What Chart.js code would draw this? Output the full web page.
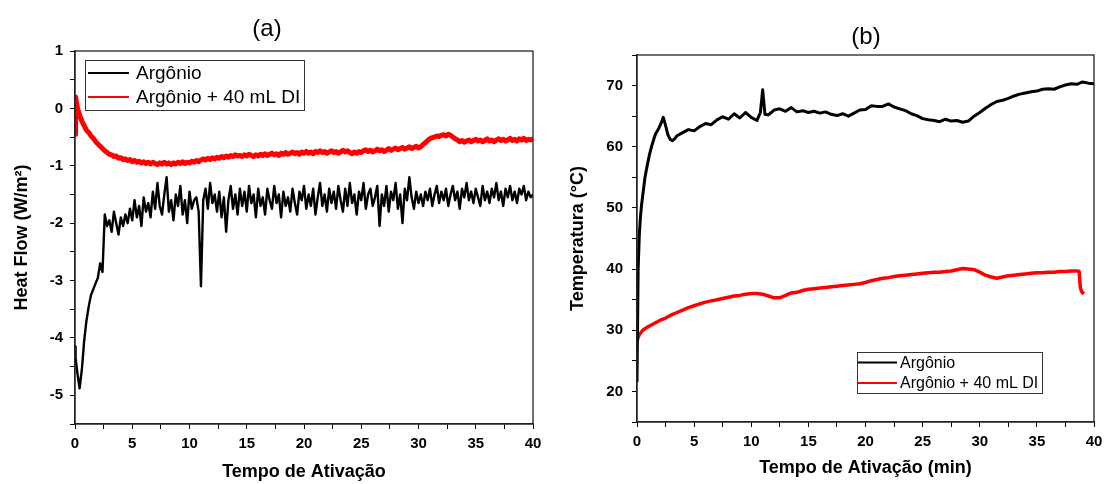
<!DOCTYPE html>
<html><head><meta charset="utf-8">
<script src="https://cdn.jsdelivr.net/npm/chart.js@4/dist/chart.umd.min.js"></script>
<style>
html,body{margin:0;padding:0;background:#fff;}
#wrap{position:relative;width:1104px;height:484px;overflow:hidden;background:#fff;}
.pane{position:absolute;top:0;height:484px;}
.lbl{position:absolute;font-family:"Liberation Sans",Arial,sans-serif;font-size:24px;color:#000;transform:translate(-50%,-50%);white-space:nowrap;}
</style></head><body>
<div id="wrap">
<div class="pane" style="left:0;width:552px"><canvas id="ca" width="552" height="484"></canvas></div>
<div class="pane" style="left:552px;width:560px"><canvas id="cb" width="560" height="484"></canvas></div>
<div class="lbl" style="left:267px;top:28px">(a)</div>
<div class="lbl" style="left:866px;top:36px">(b)</div>
</div>
<script>
// ---------- Panel (a): Heat Flow ----------
const timeA = [0,0.05,0.2,0.4,0.6,0.8,1.0,1.2,1.4,1.6,1.8,2.0,2.2,2.4,2.6,
2.8,3.0,3.2,3.4,3.6,3.8,4.0,4.2,4.4,
4.6,4.8,5.0,5.2,5.4,5.6,5.8,6.0,6.2,6.4,
6.6,6.8,7.0,7.2,7.4,7.6,7.8,8.0,8.2,8.4,
8.6,8.8,9.0,9.2,9.4,9.6,9.8,10.0,10.2,10.4,
10.6,10.8,11.0,11.2,11.4,11.6,11.8,12.0,12.2,12.4,
12.6,12.8,13.0,13.2,13.4,13.6,13.8,14.0,14.2,14.4,
14.6,14.8,15.0,15.2,15.4,15.6,15.8,16.0,16.2,16.4,
16.6,16.8,17.0,17.2,17.4,17.6,17.8,18.0,18.2,18.4,
18.6,18.8,19.0,19.2,19.4,19.6,19.8,20.0,20.2,20.4,
20.6,20.8,21.0,21.2,21.4,21.6,21.8,22.0,22.2,22.4,
22.6,22.8,23.0,23.2,23.4,23.6,23.8,24.0,24.2,24.4,
24.6,24.8,25.0,25.2,25.4,25.6,25.8,26.0,26.2,26.4,
26.6,26.8,27.0,27.2,27.4,27.6,27.8,28.0,28.2,28.4,
28.6,28.8,29.0,29.2,29.4,29.6,29.8,30.0,30.2,30.4,
30.6,30.8,31.0,31.2,31.4,31.6,31.8,32.0,32.2,32.4,
32.6,32.8,33.0,33.2,33.4,33.6,33.8,34.0,34.2,34.4,
34.6,34.8,35.0,35.2,35.4,35.6,35.8,36.0,36.2,36.4,
36.6,36.8,37.0,37.2,37.4,37.6,37.8,38.0,38.2,38.4,
38.6,38.8,39.0,39.2,39.4,39.6,39.8,40.0];

const heatArgon = [-4.15,-4.35,-4.6,-4.88,-4.55,-4.05,-3.7,-3.45,-3.25,-3.15,-3.05,-2.95,-2.7,-2.85,-1.85,
-2.05,-1.95,-2.15,-1.8,-2.0,-2.2,-1.9,-2.05,-1.85,
-2.0,-1.75,-1.95,-1.6,-1.9,-1.7,-2.05,-1.55,-1.8,-1.65,
-1.9,-1.45,-1.75,-1.3,-1.7,-1.85,-1.5,-1.2,-1.8,-1.6,
-1.95,-1.5,-1.7,-1.35,-1.85,-1.6,-2.0,-1.45,-1.75,-1.6,
-1.55,-1.8,-3.1,-1.6,-1.4,-1.75,-1.3,-1.65,-1.5,-1.8,
-1.45,-1.9,-1.55,-2.15,-1.6,-1.35,-1.75,-1.5,-1.85,-1.4,
-1.7,-1.45,-1.8,-1.35,-1.65,-1.5,-1.9,-1.4,-1.7,-1.55,
-1.85,-1.4,-1.6,-1.75,-1.35,-1.65,-1.5,-1.9,-1.45,-1.7,
-1.55,-1.8,-1.4,-1.65,-1.85,-1.45,-1.6,-1.35,-1.75,-1.5,
-1.7,-1.4,-1.85,-1.55,-1.3,-1.7,-1.5,-1.8,-1.4,-1.65,
-1.45,-1.75,-1.35,-1.6,-1.8,-1.4,-1.7,-1.3,-1.65,-1.5,
-1.85,-1.45,-1.6,-1.3,-1.75,-1.5,-1.4,-1.7,-1.55,-1.35,
-2.05,-1.5,-1.7,-1.35,-1.8,-1.45,-1.6,-1.3,-1.75,-1.5,
-2.0,-1.4,-1.6,-1.2,-1.55,-1.75,-1.45,-1.65,-1.5,-1.7,
-1.45,-1.6,-1.4,-1.7,-1.5,-1.35,-1.65,-1.45,-1.6,-1.4,
-1.7,-1.5,-1.35,-1.6,-1.45,-1.75,-1.4,-1.55,-1.3,-1.6,
-1.45,-1.65,-1.4,-1.55,-1.7,-1.35,-1.6,-1.45,-1.65,-1.4,
-1.55,-1.3,-1.6,-1.45,-1.7,-1.4,-1.55,-1.35,-1.6,-1.45,
-1.65,-1.4,-1.5,-1.35,-1.6,-1.45,-1.55,-1.5];

const heatArgonDI = [-0.45,0.2,0.02,-0.12,-0.22,-0.3,-0.38,-0.42,-0.48,-0.52,-0.58,-0.62,-0.66,-0.7,-0.74,
-0.77,-0.8,-0.81,-0.84,-0.83,-0.87,-0.86,-0.89,-0.88,
-0.91,-0.89,-0.93,-0.91,-0.94,-0.92,-0.95,-0.93,-0.96,-0.94,
-0.97,-0.94,-0.96,-0.98,-0.95,-0.97,-0.94,-0.97,-0.95,-0.98,
-0.95,-0.97,-0.94,-0.96,-0.93,-0.96,-0.94,-0.95,-0.92,-0.94,
-0.91,-0.93,-0.9,-0.88,-0.9,-0.87,-0.89,-0.86,-0.88,-0.85,
-0.87,-0.84,-0.86,-0.83,-0.85,-0.82,-0.84,-0.81,-0.83,-0.82,
-0.84,-0.81,-0.83,-0.8,-0.82,-0.84,-0.81,-0.83,-0.8,-0.82,
-0.79,-0.82,-0.8,-0.78,-0.81,-0.79,-0.82,-0.78,-0.8,-0.77,
-0.8,-0.78,-0.76,-0.79,-0.77,-0.8,-0.76,-0.78,-0.75,-0.78,
-0.76,-0.79,-0.75,-0.77,-0.74,-0.77,-0.75,-0.78,-0.76,-0.74,
-0.77,-0.75,-0.78,-0.76,-0.73,-0.76,-0.74,-0.77,-0.79,-0.76,
-0.78,-0.75,-0.77,-0.74,-0.72,-0.75,-0.73,-0.76,-0.74,-0.71,
-0.74,-0.72,-0.75,-0.73,-0.7,-0.73,-0.71,-0.69,-0.72,-0.7,
-0.68,-0.71,-0.69,-0.67,-0.7,-0.68,-0.66,-0.69,-0.67,-0.63,
-0.6,-0.56,-0.53,-0.51,-0.5,-0.48,-0.49,-0.47,-0.46,-0.48,
-0.45,-0.47,-0.5,-0.53,-0.55,-0.58,-0.56,-0.59,-0.57,-0.55,
-0.58,-0.56,-0.54,-0.57,-0.55,-0.58,-0.56,-0.53,-0.57,-0.55,
-0.58,-0.55,-0.53,-0.56,-0.54,-0.57,-0.55,-0.52,-0.56,-0.54,
-0.57,-0.53,-0.55,-0.52,-0.56,-0.54,-0.55,-0.53];

// ---------- Panel (b): Temperature ----------
const timeB = [0,0.1,0.2,0.3,0.4,0.5,0.7,0.9,1.1,1.3,1.6,1.9,2.1,2.3,2.5,2.7,2.9,3.1,3.3,3.5,
4,4.5,5,5.5,6,6.5,7,7.5,8,8.5,9,9.5,10,10.5,10.8,11,11.2,11.5,12,12.5,13,13.5,14,14.5,15,15.5,
16,16.5,17,17.5,18,18.5,19,19.5,20,20.5,21,21.5,22,22.5,23,23.5,24,24.5,25,25.5,26,26.5,27,27.5,
28,28.5,29,29.5,30,30.5,31,31.5,32,32.5,33,33.5,34,34.5,35,35.5,36,36.5,37,37.5,38,38.5,39,39.5,40];
const tempArgon = [21.5,40,45.5,48.5,50.5,52,55,57,58.8,60.2,62,63,63.8,64.8,63.5,62,61.2,61,61.3,61.8,
62.3,62.8,62.6,63.3,63.8,63.6,64.4,64.9,64.5,65.4,64.7,65.6,64.8,64.3,65.6,69.3,65.3,65.2,66,66.2,65.8,66.4,65.7,65.9,65.6,65.8,
65.5,65.7,65.3,65.1,65.4,65.0,65.5,66.0,66.1,66.7,66.6,66.6,67.0,66.5,66.2,65.9,65.4,65.1,64.6,64.4,64.3,64.1,64.5,64.2,
64.3,64.0,64.2,65.0,65.6,66.3,66.9,67.4,67.6,67.9,68.3,68.6,68.8,69.0,69.1,69.4,69.5,69.4,69.8,70.1,70.3,70.2,70.6,70.4,70.3];

const timeC = [0,0.2,0.5,1,1.5,2,2.5,3,3.5,4,4.5,5,5.5,6,6.5,7,7.5,8,8.5,9,9.5,10,10.5,11,11.5,12,12.5,13,13.5,14,14.5,15,
15.5,16,16.5,17,17.5,18,18.5,19,19.5,20,20.5,21,21.5,22,22.5,23,23.5,24,24.5,25,25.5,26,26.5,27,27.5,28,28.5,29,29.5,30,
30.5,31,31.5,32,32.5,33,33.5,34,34.5,35,35.5,36,36.5,37,37.5,38,38.5,38.7,38.8,38.9,39.1];
const tempArgonDI = [28.3,29.3,30.0,30.6,31.1,31.6,32.0,32.5,32.9,33.3,33.7,34.0,34.3,34.6,34.8,35.0,35.2,35.4,35.6,35.7,35.9,36.0,36.0,35.9,35.6,35.3,35.3,35.7,36.1,36.2,36.5,36.7,
36.8,36.9,37.0,37.1,37.2,37.3,37.4,37.5,37.6,37.8,38.1,38.3,38.5,38.6,38.8,38.9,39.0,39.1,39.2,39.3,39.4,39.5,39.5,39.6,39.7,39.9,40.1,40.0,39.9,39.5,
39.0,38.7,38.5,38.7,38.9,39.0,39.1,39.2,39.3,39.4,39.4,39.5,39.5,39.6,39.6,39.7,39.7,39.6,37.0,36.4,35.9];

const seriesNames = ['Argônio', 'Argônio + 40 mL DI'];
const FONT = '"Liberation Sans", Arial, sans-serif';

function pts(xs, ys){ return xs.map((x,i)=>({x:x, y:ys[i]})); }

const boxPlugin = {
  id:'boxLegend',
  afterDatasetsDraw(chart, args, o){
    const {ctx, chartArea:a} = chart;
    ctx.save();
    ctx.strokeStyle='#222'; ctx.lineWidth=1.3;
    ctx.strokeRect(a.left, a.top, a.right-a.left, a.bottom-a.top);
    ctx.fillStyle='#fff'; ctx.fillRect(o.x, o.y, o.w, o.h);
    ctx.strokeStyle='#333'; ctx.lineWidth=1;
    ctx.strokeRect(o.x+0.5, o.y+0.5, o.w, o.h);
    chart.data.datasets.forEach((ds,i)=>{
      const y = o.y + o.first + i*o.gap;
      ctx.strokeStyle = ds.borderColor; ctx.lineWidth = 2;
      ctx.beginPath(); ctx.moveTo(o.x+o.lx0, y); ctx.lineTo(o.x+o.lx1, y); ctx.stroke();
      ctx.fillStyle='#000'; ctx.font = o.size+'px '+FONT; ctx.textBaseline='middle'; ctx.textAlign='left';
      ctx.fillText(ds.label, o.x+o.tx, y+1);
    });
    ctx.restore();
  }
};

function makeChart(id, cfg){
  return new Chart(document.getElementById(id), {
    type:'line',
    data:{datasets:cfg.datasets},
    options:{
      responsive:false, animation:false,
      layout:{padding:cfg.pad},
      elements:{point:{radius:0}, line:{tension:0, borderJoinStyle:'round'}},
      plugins:{legend:{display:false}, tooltip:{enabled:false}, boxLegend:cfg.legend},
      scales:{
        x:{type:'linear', min:0, max:40,
          afterFit:s=>{s.height=cfg.xh;},
          ticks:{stepSize:2.5, autoSkip:false, maxRotation:0, padding:cfg.xlp, color:'#000',
            font:{family:FONT, size:15, weight:'bold'},
            callback:v=> (v%5===0 ? String(v) : '')},
          grid:{drawOnChartArea:false, tickLength:5, color:'#000', tickWidth:1},
          border:{color:'#222', width:1.3},
          title:{display:true, text:cfg.xtitle, color:'#000', font:{family:FONT, size:18, weight:'bold'}, padding:{top:0, bottom:cfg.xtb}}},
        y:{type:'linear', min:cfg.ymin, max:cfg.ymax,
          afterFit:s=>{s.width=cfg.yw;},
          ticks:{stepSize:cfg.ystep, autoSkip:false, padding:cfg.ylp, color:'#000',
            font:{family:FONT, size:15, weight:'bold'},
            callback:v=> (Math.abs(v/cfg.ylab - Math.round(v/cfg.ylab))<1e-9 ? String(v) : '')},
          grid:{drawOnChartArea:false, tickLength:5, color:'#000', tickWidth:1},
          border:{color:'#222', width:1.3},
          title:{display:true, text:cfg.ytitle, color:'#000', font:{family:FONT, size:18, weight:'bold'}, padding:{top:cfg.ytp, bottom:0}}}
      }
    },
    plugins:[boxPlugin]
  });
}

makeChart('ca', {
  datasets:[
    {label:seriesNames[0], data:pts(timeA, heatArgon), borderColor:'#000000', borderWidth:2.4},
    {label:seriesNames[1], data:pts(timeA, heatArgonDI), borderColor:'#ff0000', borderWidth:5}
  ],
  pad:{left:0, right:19, top:51, bottom:0}, xh:60, yw:75,
  ymin:-5.5, ymax:1, ystep:0.5, ylab:1, ylp:7, xlp:6,
  xtitle:'Tempo de Ativação', ytitle:'Heat Flow (W/m²)', xtb:1, ytp:11,
  legend:{x:85, y:60, w:219, h:50, first:13, gap:24, lx0:3, lx1:44, tx:51, size:19}
});

makeChart('cb', {
  datasets:[
    {label:seriesNames[0], data:pts(timeB, tempArgon), borderColor:'#000000', borderWidth:3},
    {label:seriesNames[1], data:pts(timeC, tempArgonDI), borderColor:'#ff0000', borderWidth:3.5}
  ],
  pad:{left:0, right:18, top:55, bottom:0}, xh:62, yw:85,
  ymin:15, ymax:75, ystep:5, ylab:10, ylp:9, xlp:6,
  xtitle:'Tempo de Ativação (min)', ytitle:'Temperatura (°C)', xtb:5, ytp:15,
  legend:{x:305, y:352, w:185, h:41, first:10.5, gap:20.5, lx0:1, lx1:40, tx:43, size:16}
});
</script>
</body></html>
